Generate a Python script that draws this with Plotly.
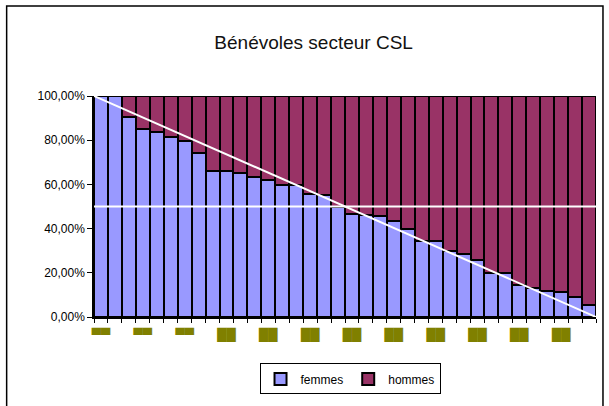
import plotly.graph_objects as go

# ------------------------------------------
# DONNEES
# ------------------------------------------
rang = list(range(36))
femmes = [1.000, 1.000, 0.905, 0.851, 0.837, 0.814, 0.798, 0.742, 0.662, 0.662,
          0.653, 0.633, 0.618, 0.596, 0.596, 0.555, 0.553, 0.500, 0.465, 0.462,
          0.456, 0.435, 0.400, 0.344, 0.342, 0.300, 0.284, 0.257, 0.201, 0.200,
          0.144, 0.133, 0.118, 0.112, 0.091, 0.056]
hommes = [round(1 - f, 3) for f in femmes]

# etiquettes de l'axe x (une sur trois, rendues comme des blocs)
tick_pos = rang[::3]
tick_txt = ["▀▀"] * 3 + ["██"] * 9

# droites de reference (diagonale et 50 %)
ref_x = [rang[0] - 0.5, rang[-1] + 0.5]
diag_y = [1.0, 0.0]
moitie_y = [0.5, 0.5]

BLEU = "#9999FF"
PRUNE = "#993366"
OLIVE = "#808000"

fig = go.Figure()
fig.add_trace(go.Bar(x=rang, y=femmes, name="femmes",
                     marker=dict(color=BLEU, line=dict(color="black", width=2))))
fig.add_trace(go.Bar(x=rang, y=hommes, name="hommes",
                     marker=dict(color=PRUNE, line=dict(color="black", width=2))))
fig.add_trace(go.Scatter(x=ref_x, y=diag_y, mode="lines", showlegend=False,
                         line=dict(color="white", width=2), hoverinfo="skip"))
fig.add_trace(go.Scatter(x=ref_x, y=moitie_y, mode="lines", showlegend=False,
                         line=dict(color="white", width=2), hoverinfo="skip"))

fig.update_layout(
    width=609, height=406,
    barmode="stack", bargap=0,
    separators=", ",
    plot_bgcolor="white", paper_bgcolor="white",
    margin=dict(l=94, r=13, t=96, b=89, pad=0),
    font=dict(family="Liberation Sans, Arial, sans-serif", size=12, color="black"),
    title=dict(text="Bénévoles secteur CSL", x=0.515, xanchor="center",
               y=0.895, yanchor="middle",
               font=dict(family="Liberation Sans, Arial, sans-serif", size=19, color="#111111")),
    xaxis=dict(
        range=ref_x, showgrid=False, zeroline=False,
        showline=True, linecolor="black", linewidth=1.5,
        tickmode="array", tickvals=tick_pos, ticktext=tick_txt,
        ticks="", ticklabelstandoff=6,
        tickfont=dict(family="DejaVu Sans", size=12, color=OLIVE),
        minor=dict(tickmode="linear", tick0=-0.5, dtick=1, ticks="outside",
                   ticklen=4, tickcolor="black", tickwidth=1, showgrid=False),
    ),
    yaxis=dict(
        range=[0, 1], showgrid=False, zeroline=False,
        showline=True, linecolor="black", linewidth=1.5,
        tickmode="linear", tick0=0, dtick=0.2, tickformat=".2%",
        ticks="outside", ticklen=5, tickcolor="black",
        tickfont=dict(size=12, color="black"),
    ),
    legend=dict(orientation="h", x=0.51, xanchor="center", y=-0.28, yanchor="middle",
                traceorder="normal", bordercolor="black", borderwidth=1,
                font=dict(size=12, color="black"), itemwidth=30,
                tracegroupgap=0),
    shapes=[dict(type="rect", xref="paper", yref="paper",
                 x0=-0.174, x1=1.0139, y0=-0.45, y1=1.407,
                 line=dict(color="black", width=1.5), fillcolor="rgba(0,0,0,0)",
                 layer="below")],
)

# la page a une marge par defaut de 8 px : on la supprime
fig.write_html("out.html", config={"displayModeBar": False},
               post_script="document.body.style.margin='0';")
